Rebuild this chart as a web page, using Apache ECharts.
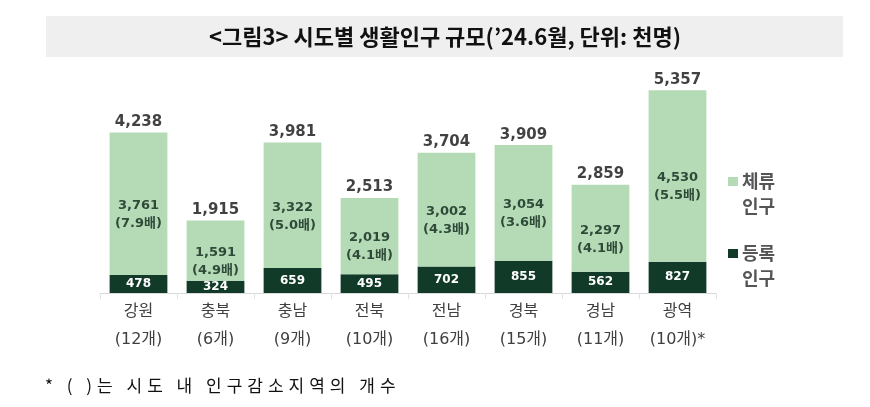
<!DOCTYPE html>
<html><head><meta charset="utf-8">
<script src="https://cdn.jsdelivr.net/npm/echarts@6/dist/echarts.min.js"></script>
<style>html,body{margin:0;padding:0;background:#fff}#wrap{position:relative;width:870px;height:407px}#c{width:870px;height:407px}
#note{position:absolute;left:45px;top:373px;font:17px 'Noto Sans CJK KR',sans-serif;letter-spacing:5px;color:#111;white-space:nowrap;line-height:24px}</style>
</head><body><div id="wrap"><div id="c"></div><div id="note">* ( )는 시도 내 인구감소지역의 개수</div></div>
<script>
const categories = ['강원','충북','충남','전북','전남','경북','경남','광역'];
const regionCounts = ['(12개)','(6개)','(9개)','(10개)','(16개)','(15개)','(11개)','(10개)*'];
const registered = [478, 324, 659, 495, 702, 855, 562, 827];
const stay = [3761, 1591, 3322, 2019, 3002, 3054, 2297, 4530];
const totals = [4238, 1915, 3981, 2513, 3704, 3909, 2859, 5357];
const ratios = ['7.9','4.9','5.0','4.1','4.3','3.6','4.1','5.5'];

const LIGHT = '#b5dbb6', DARK = '#123a29';
const numFont = "'DejaVu Sans','Noto Sans CJK KR',sans-serif";
const fmt = v => v.toLocaleString('en-US');

const chart = echarts.init(document.getElementById('c'));
chart.setOption({
  animation: false,
  grid: {left: 100, right: 154, top: 66, bottom: 114},
  xAxis: {
    type: 'category', data: categories,
    axisLine: {lineStyle: {color: '#d9d9d9'}},
    axisTick: {show: true, length: 6, lineStyle: {color: '#e3e3e3'}},
    axisLabel: {
      interval: 0, margin: 5,
      formatter: (v, i) => v + '\n' + regionCounts[i],
      fontFamily: numFont, fontSize: 16, color: '#404040', lineHeight: 28
    }
  },
  yAxis: {type: 'value', min: 0, max: 6000, show: false, splitLine: {show: false}},
  series: [
    {
      name: '등록', type: 'bar', stack: 's', data: registered, barWidth: '75%',
      itemStyle: {color: DARK},
      label: {show: true, position: 'inside', formatter: p => fmt(p.value),
        color: '#fff', fontWeight: 'bold', fontSize: 12, fontFamily: numFont}
    },
    {
      name: '체류', type: 'bar', stack: 's', data: stay, barWidth: '75%',
      itemStyle: {color: LIGHT},
      label: {show: true, position: 'inside', offset: [0, 11],
        formatter: p => fmt(p.value) + '\n(' + ratios[p.dataIndex] + '배)',
        color: '#2f4a38', fontWeight: 'bold', fontSize: 13, lineHeight: 18, fontFamily: numFont}
    },
    {
      name: '합계', type: 'scatter', data: totals, symbolSize: 0,
      label: {show: true, position: 'top', distance: 3, formatter: p => fmt(p.value),
        color: '#111', fontWeight: 'bold', fontSize: 15, fontFamily: numFont}
    }
  ],
  graphic: [
    {type: 'rect', shape: {x: 46, y: 16, width: 797, height: 41}, style: {fill: '#efefef'}},
    {type: 'text', x: 445, y: 37, style: {text: '<그림3> 시도별 생활인구 규모(’24.6월, 단위: 천명)',
      font: "bold 22px 'Noto Sans CJK KR'", fill: '#111', textAlign: 'center', textVerticalAlign: 'middle'}},
    {type: 'rect', shape: {x: 728, y: 177, width: 10, height: 9}, style: {fill: LIGHT}},
    {type: 'text', x: 742, y: 181, style: {text: '체류', font: "bold 18px 'Noto Sans CJK KR'", fill: '#555', textVerticalAlign: 'middle'}},
    {type: 'text', x: 742, y: 206, style: {text: '인구', font: "bold 18px 'Noto Sans CJK KR'", fill: '#555', textVerticalAlign: 'middle'}},
    {type: 'rect', shape: {x: 728, y: 249, width: 10, height: 9}, style: {fill: DARK}},
    {type: 'text', x: 742, y: 253, style: {text: '등록', font: "bold 18px 'Noto Sans CJK KR'", fill: '#555', textVerticalAlign: 'middle'}},
    {type: 'text', x: 742, y: 278, style: {text: '인구', font: "bold 18px 'Noto Sans CJK KR'", fill: '#555', textVerticalAlign: 'middle'}}
  ]
});
</script></body></html>
